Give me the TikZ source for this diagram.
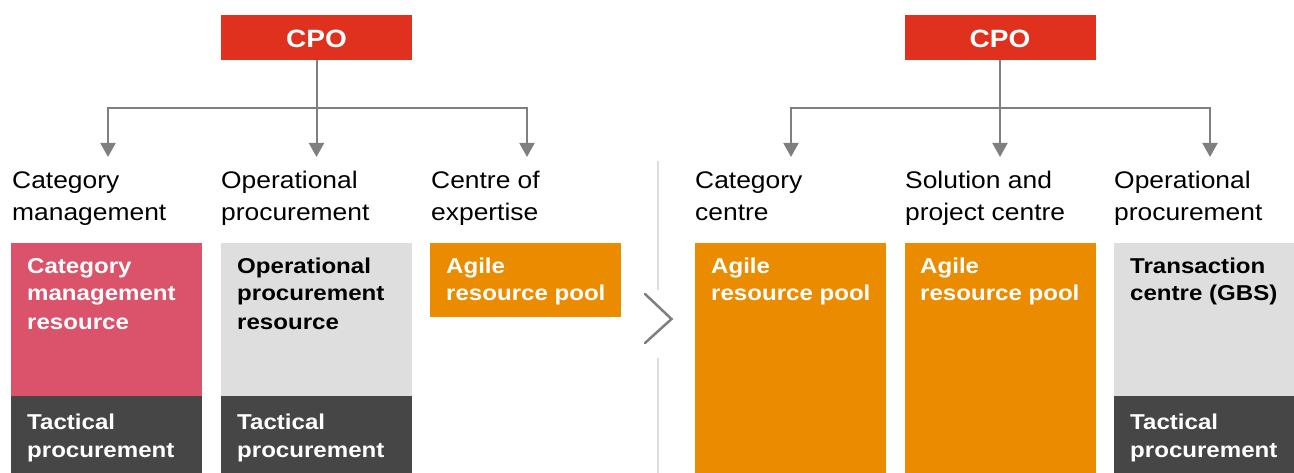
\documentclass[tikz,border=0pt]{standalone}
\usepackage{fontspec}
\setmainfont{Liberation Sans}
\newfontfamily\regfont{Liberation Sans}[FakeStretch=1.1]
\newfontfamily\boldfont{Liberation Sans Bold}[FakeStretch=1.12]
\usetikzlibrary{arrows.meta}
\definecolor{pwcred}{HTML}{E0301E}
\definecolor{pwcpink}{HTML}{DB536A}
\definecolor{pwclight}{HTML}{DEDEDE}
\definecolor{pwcdark}{HTML}{464646}
\definecolor{pwcorange}{HTML}{EB8C00}
\definecolor{pwcgrey}{HTML}{7F7F7F}
\definecolor{sepgrey}{HTML}{DDDDDD}
\tikzset{
  cpobox/.style={fill=pwcred, minimum width=191pt, minimum height=45pt, inner sep=0pt, text height=21pt, text depth=0pt, text=white, font=\boldfont\fontsize{25}{30}\selectfont},
  blk/.style={anchor=north west, inner sep=0pt, minimum width=191pt},
  hdr/.style={anchor=base west, inner sep=0pt, align=left, font=\regfont\fontsize{24}{32}\selectfont},
  btxt/.style={anchor=base west, inner sep=0pt, align=left, font=\boldfont\fontsize{21.5}{28}\selectfont},
  arr/.style={draw=pwcgrey, line width=2pt, -{Triangle[width=15pt,length=14pt]}},
  conn/.style={draw=pwcgrey, line width=2pt},
}
\begin{document}
\begin{tikzpicture}[x=1pt,y=-1pt]
\useasboundingbox (0,0) rectangle (1294,473);
% CPO boxes
\node[cpobox] (cpoL) at (316.5,37.5) {CPO};
\node[cpobox] (cpoR) at (1000,37.5) {CPO};
% junctions and arrow tips
\coordinate (jL) at (316.5,108);
\coordinate (jR) at (1000,108);
\coordinate (t1) at (108,157);
\coordinate (t2) at (316.5,157);
\coordinate (t3) at (527,157);
\coordinate (t4) at (791,157);
\coordinate (t5) at (1000,157);
\coordinate (t6) at (1210,157);
\draw[conn] (cpoL.south) -- (jL);
\draw[arr] (jL) -| (t1);
\draw[arr] (cpoL.south) -- (t2);
\draw[arr] (jL) -| (t3);
\draw[conn] (cpoR.south) -- (jR);
\draw[arr] (jR) -| (t4);
\draw[arr] (cpoR.south) -- (t5);
\draw[arr] (jR) -| (t6);
% headers (anchor = baseline of last line)
\node[hdr] (h1) at (12,221) {Category\\management};
\node[hdr] (h2) at (221,221) {Operational\\procurement};
\node[hdr] (h3) at (431,221) {Centre of\\expertise};
\node[hdr] (h4) at (695,221) {Category\\centre};
\node[hdr] (h5) at (905,221) {Solution and\\project centre};
\node[hdr] (h6) at (1114,221) {Operational\\procurement};
% blocks
\node[blk, fill=pwcpink, minimum height=153pt] (b1) at (11,243) {};
\node[blk, fill=pwcdark, minimum height=77pt] (d1) at (11,396) {};
\node[blk, fill=pwclight, minimum height=153pt] (b2) at (221,243) {};
\node[blk, fill=pwcdark, minimum height=77pt] (d2) at (221,396) {};
\node[blk, fill=pwcorange, minimum height=74pt] (b3) at (430,243) {};
\node[blk, fill=pwcorange, minimum height=230pt] (b4) at (695,243) {};
\node[blk, fill=pwcorange, minimum height=230pt] (b5) at (905,243) {};
\node[blk, fill=pwclight, minimum height=153pt, minimum width=180pt] (b6) at (1114,243) {};
\node[blk, fill=pwcdark, minimum height=77pt, minimum width=180pt] (d6) at (1114,396) {};
% block texts (anchor = baseline of last line)
\node[btxt, text=white] (x1) at (27,329) {Category\\management\\resource};
\node[btxt, text=white] (y1) at (27,457) {Tactical\\procurement};
\node[btxt, text=black] (x2) at (237,329) {Operational\\procurement\\resource};
\node[btxt, text=white] (y2) at (237,457) {Tactical\\procurement};
\node[btxt, text=white] (x3) at (446,301) {Agile\\resource pool};
\node[btxt, text=white] (x4) at (711,301) {Agile\\resource pool};
\node[btxt, text=white] (x5) at (920,301) {Agile\\resource pool};
\node[btxt, text=black] (x6) at (1130,301) {Transaction\\centre (GBS)};
\node[btxt, text=white] (y6) at (1130,457) {Tactical\\procurement};
% separator and chevron
\coordinate (s1) at (658,161);
\coordinate (s2) at (658,290);
\coordinate (s3) at (658,358);
\coordinate (s4) at (658,473);
\draw[sepgrey, line width=1.6pt] (s1) -- (s2) (s3) -- (s4);
\coordinate (c1) at (645,294);
\coordinate (c2) at (671.5,319);
\coordinate (c3) at (645,343);
\draw[pwcgrey, line width=2.5pt, line cap=round, line join=miter] (c1) -- (c2) -- (c3);
\end{tikzpicture}
\end{document}
